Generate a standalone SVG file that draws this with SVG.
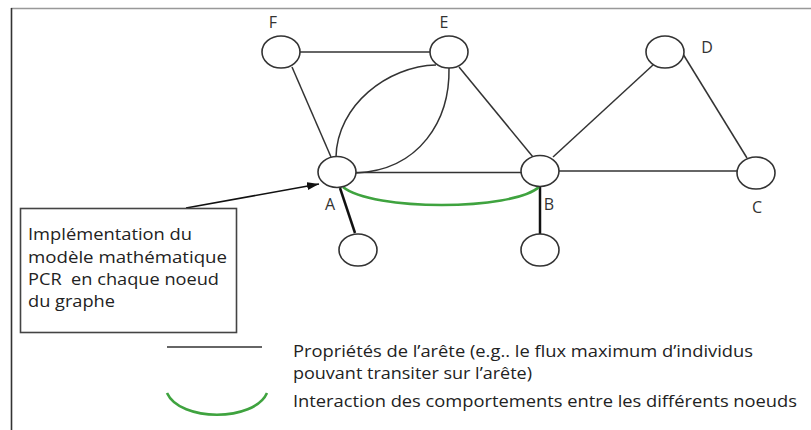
<svg xmlns="http://www.w3.org/2000/svg" width="811" height="430" viewBox="0 0 811 430">
<style>
  .edge{stroke:#333;stroke-width:1.5;fill:none}
  .thick{stroke:#111;stroke-width:2.5;fill:none}
  .green{stroke:#3fa33f;stroke-width:2.6;fill:none}
  .node{fill:#fff;stroke:#333;stroke-width:1.6}
  .lbl{font-family:"Open Sans","Liberation Sans",sans-serif;font-size:16px;fill:#333;text-anchor:middle}
  .txt{font-family:"Open Sans","Liberation Sans",sans-serif;font-size:16px;fill:#222;white-space:pre}
</style>
<defs>
  <marker id="arr" viewBox="0 0 12 8" refX="12" refY="4" markerWidth="12" markerHeight="8" markerUnits="userSpaceOnUse" orient="auto">
    <path d="M0,0 L12,4 L0,8 Z" fill="#111"/>
  </marker>
</defs>
<rect width="811" height="430" fill="#fff"/>
<g id="frame">
  <line x1="11" y1="8.5" x2="811" y2="8.5" stroke="#999" stroke-width="1.5"/>
  <line x1="11.5" y1="8" x2="11.5" y2="430" stroke="#333" stroke-width="1.6"/>
</g>
<g id="connectors">
  <line class="edge" x1="281" y1="52" x2="449" y2="52"/>
  <line class="edge" x1="292" y1="67" x2="331" y2="157"/>
  <path class="edge" d="M336,157 C337,105 388,66 436,65"/>
  <path class="edge" d="M356,173 C420,170 450,120 449,68"/>
  <line class="edge" x1="337" y1="172.5" x2="540" y2="172.5"/>
  <line class="edge" x1="459" y1="67" x2="533" y2="157"/>
  <line class="edge" x1="553" y1="157" x2="653" y2="65"/>
  <line class="edge" x1="683" y1="54" x2="747" y2="158"/>
  <line class="edge" x1="540" y1="171" x2="756" y2="171"/>
  <line class="thick" x1="340" y1="188" x2="355" y2="233"/>
  <line class="thick" x1="540" y1="187" x2="540" y2="234"/>
  <path class="green" d="M343,187 C372,211 512,211 539,187"/>
  <line x1="186" y1="208" x2="319" y2="184" stroke="#111" stroke-width="1.5" marker-end="url(#arr)"/>
</g>
<g id="F"><ellipse class="node" cx="281" cy="52" rx="19" ry="16"/><text class="lbl" x="273" y="28">F</text></g>
<g id="E"><ellipse class="node" cx="449" cy="52" rx="19" ry="16"/><text class="lbl" x="444" y="28">E</text></g>
<g id="D"><ellipse class="node" cx="665" cy="52" rx="19" ry="16"/><text class="lbl" x="707" y="53">D</text></g>
<g id="A"><ellipse class="node" cx="337" cy="172" rx="19" ry="15.5"/><text class="lbl" x="330" y="210">A</text></g>
<g id="B"><ellipse class="node" cx="540" cy="171" rx="19" ry="15.5"/><text class="lbl" x="549" y="210">B</text></g>
<g id="C"><ellipse class="node" cx="756" cy="173" rx="19" ry="16"/><text class="lbl" x="757" y="213">C</text></g>
<g id="A1"><ellipse class="node" cx="358" cy="250" rx="19" ry="16"/></g>
<g id="B1"><ellipse class="node" cx="540" cy="250" rx="19" ry="16"/></g>
<g id="note">
  <rect x="20.5" y="208.5" width="216" height="124" fill="none" stroke="#444" stroke-width="1.6"/>
  <text class="txt" x="28" y="240" textLength="164" lengthAdjust="spacingAndGlyphs">Implémentation du</text>
  <text class="txt" x="28" y="263" textLength="199" lengthAdjust="spacingAndGlyphs">modèle mathématique</text>
  <text class="txt" x="28" y="285" textLength="191" lengthAdjust="spacingAndGlyphs">PCR  en chaque noeud</text>
  <text class="txt" x="28" y="307" textLength="87" lengthAdjust="spacingAndGlyphs">du graphe</text>
</g>
<g id="legend">
  <line x1="167" y1="347" x2="262" y2="347" stroke="#333" stroke-width="1.5"/>
  <path class="green" d="M167,393 C180,422 254,422 267,393"/>
  <text class="txt" x="293" y="357" textLength="460" lengthAdjust="spacingAndGlyphs">Propriétés de l’arête (e.g.. le flux maximum d’individus</text>
  <text class="txt" x="293" y="379" textLength="239" lengthAdjust="spacingAndGlyphs">pouvant transiter sur l’arête)</text>
  <text class="txt" x="293" y="407" textLength="504" lengthAdjust="spacingAndGlyphs">Interaction des comportements entre les différents noeuds</text>
</g>
</svg>
